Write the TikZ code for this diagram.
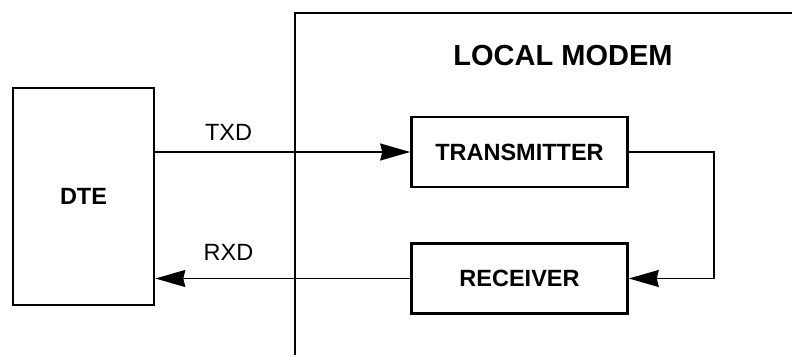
\documentclass[tikz,border=0pt]{standalone}
\usepackage{fontspec}
\setmainfont{Liberation Sans}
\usetikzlibrary{arrows.meta}
\begin{document}
\begin{tikzpicture}[x=1pt,y=-1pt,
  blockbox/.style={draw,line width=2.6pt,inner sep=0pt,
    font=\fontsize{23.5}{28}\selectfont\bfseries},
  conn/.style={line width=1.4pt,-{Stealth[length=30pt,width=17pt,inset=2pt]}},
  lbl/.style={inner sep=0pt,font=\fontsize{23.5}{28}\selectfont},
  outline/.style={line width=2.4pt}]
\useasboundingbox (0,0) rectangle (792,356);
\node[blockbox,minimum width=141pt,minimum height=217pt] (dte) at (83.5,196.5) {DTE};
\node[blockbox,minimum width=216pt,minimum height=70pt] (tx) at (519.5,152) {TRANSMITTER};
\node[blockbox,minimum width=216pt,minimum height=70pt] (rx) at (519.5,278.5) {RECEIVER};
\node[inner sep=0pt,font=\fontsize{29}{34}\selectfont\bfseries] (title) at (563,56) {LOCAL MODEM};
\coordinate (mbot) at (295,355);
\coordinate (mcorner) at (295,13);
\coordinate (mright) at (793,13);
\draw[outline] (mbot) -- (mcorner) -- (mright);
\draw[conn] (dte.east |- tx.west) -- (tx.west);
\draw[conn] (rx.west) -- (dte.east |- rx.west);
\draw[conn] (tx.east) -- ++(85,0) |- (rx.east);
\node[lbl] (txd) at (228.5,132.5) {TXD};
\node[lbl] (rxd) at (228.5,252.5) {RXD};
\end{tikzpicture}
\end{document}
